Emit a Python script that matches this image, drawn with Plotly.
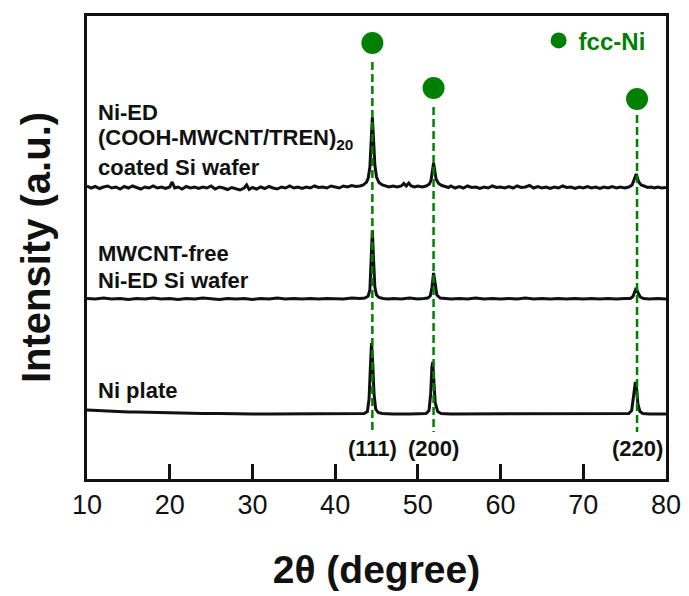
import plotly.graph_objects as go

# ---------------- data ----------------
# 2-theta positions (degree) and offset intensities (a.u.) of the three XRD patterns

# Top: Ni-ED (COOH-MWCNT/TREN)20 coated Si wafer
top_x = [10.0, 10.5, 11.0, 11.5, 12.0, 12.5, 13.0, 13.5, 14.0, 14.5, 15.0, 15.5, 16.0, 16.5,
         17.0, 17.5, 18.0, 18.5, 19.0, 19.5, 20.0, 20.3, 20.6, 21.0, 21.5, 22.0, 22.5, 23.0,
         23.5, 24.0, 24.5, 25.0, 25.5, 26.0, 26.5, 27.0, 27.5, 28.0, 28.5, 29.0, 29.3, 29.6,
         30.0, 30.5, 31.0, 31.5, 32.0, 32.5, 33.0, 33.5, 34.0, 34.5, 35.0, 35.5, 36.0, 36.5,
         37.0, 37.5, 38.0, 38.5, 39.0, 39.5, 40.0, 40.5, 41.0, 41.5, 42.0, 42.5, 43.0, 43.4,
         43.8, 44.0, 44.2, 44.35, 44.5, 44.65, 44.8, 45.0, 45.3, 45.7, 46.0, 46.5, 47.0, 47.5,
         48.0, 48.3, 48.6, 48.9, 49.2, 49.6, 50.0, 50.5, 51.0, 51.4, 51.6, 51.75, 51.9, 52.05,
         52.2, 52.5, 52.9, 53.3, 53.7, 54.0, 54.5, 55.0, 55.5, 56.0, 56.5, 57.0, 57.5, 58.0,
         58.5, 59.0, 59.5, 60.0, 60.5, 61.0, 61.5, 62.0, 62.5, 63.0, 63.5, 64.0, 64.5, 65.0,
         65.5, 66.0, 66.5, 67.0, 67.5, 68.0, 68.5, 69.0, 69.5, 70.0, 70.5, 71.0, 71.5, 72.0,
         72.5, 73.0, 73.5, 74.0, 74.5, 75.0, 75.5, 75.9, 76.1, 76.25, 76.4, 76.55, 76.7, 77.0,
         77.4, 77.8, 78.2, 78.6, 79.0, 79.5, 80.0]
top_y = [293.0, 291.0, 292.5, 290.5, 292.0, 293.0, 291.0, 292.0, 290.0, 292.5, 291.0, 293.0, 291.5, 290.0,
         292.0, 291.0, 293.0, 291.0, 292.0, 290.5, 292.0, 297.0, 291.0, 292.0, 290.0, 292.5, 291.0, 292.0,
         290.5, 292.0, 291.0, 293.0, 290.0, 292.0, 291.0, 289.5, 291.5, 290.5, 289.0, 291.0, 294.0, 289.5,
         291.5, 290.0, 292.0, 290.5, 292.5, 291.0, 290.0, 292.0, 291.0, 293.0, 291.0, 292.0, 290.5, 292.0,
         291.0, 293.0, 291.5, 292.0, 291.0, 293.0, 292.0, 291.0, 293.0, 292.0, 293.5, 292.5, 293.0, 294.0,
         297.0, 301.0, 312.0, 335.0, 362.0, 338.0, 314.0, 302.0, 296.5, 294.0, 293.0, 292.0, 293.0, 292.0,
         293.0, 295.5, 293.0, 296.0, 293.0, 292.0, 293.0, 292.0, 293.0, 295.0, 299.0, 307.0, 316.0, 308.0,
         300.0, 295.5, 293.5, 292.5, 291.5, 293.0, 291.0, 292.5, 291.0, 293.0, 291.5, 292.0, 290.5, 292.0,
         291.0, 293.0, 291.5, 292.0, 291.0, 292.5, 291.0, 293.0, 291.5, 292.0, 293.5, 291.0, 292.5, 291.0,
         292.0, 290.5, 292.0, 291.0, 293.0, 291.5, 292.0, 290.5, 292.0, 291.0, 292.5, 291.0, 292.0, 290.5,
         292.0, 291.0, 292.5, 291.0, 292.0, 291.0, 292.0, 294.0, 298.0, 302.0, 305.0, 301.0, 297.0, 294.0,
         292.5, 291.5, 292.0, 291.0, 292.0, 291.0, 291.5]

# Middle: MWCNT-free Ni-ED Si wafer
mid_x = [10, 11, 12, 13, 14, 15, 16, 17, 18, 19, 20, 21, 22, 23, 24, 25, 26, 27, 28, 29, 30,
         31, 32, 33, 34, 35, 36, 37, 38, 39, 40, 41, 42, 43, 43.6, 44.0, 44.2, 44.35, 44.5,
         44.65, 44.8, 45.0, 45.3, 45.8, 46.5, 47, 48, 49, 50, 50.7, 51.2, 51.5, 51.7, 51.9,
         52.1, 52.3, 52.7, 53.2, 54, 55, 56, 57, 58, 59, 60, 61, 62, 63, 64, 65, 66, 67, 68,
         69, 70, 71, 72, 73, 74, 75, 75.7, 76.0, 76.2, 76.4, 76.6, 76.9, 77.3, 78, 79, 80]
mid_y = [180.5, 180.0, 181.0, 180.0, 180.5, 179.5, 180.5, 180.0, 181.0, 180.0, 180.5, 179.5, 180.5, 180.0,
         181.0, 180.0, 179.5, 180.5, 180.0, 180.5, 179.5, 180.5, 180.0, 181.0, 180.0, 180.5, 180.0, 180.5,
         180.0, 180.5, 180.5, 180.0, 181.0, 180.5, 181.0, 183.0, 189.0, 215.0, 249.0, 218.0, 192.0, 184.0,
         181.5, 180.5, 180.0, 180.5, 180.0, 181.0, 180.0, 180.5, 181.0, 183.0, 191.0, 206.0, 193.0, 184.0,
         181.0, 180.5, 180.0, 180.5, 180.0, 181.0, 180.0, 180.5, 180.0, 180.5, 180.0, 181.0, 180.0, 180.5,
         180.0, 180.5, 180.0, 180.5, 180.0, 180.5, 180.0, 180.5, 180.0, 180.5, 180.5, 182.5, 186.0, 191.0,
         186.5, 182.0, 180.5, 180.0, 180.5, 180.0]

# Bottom: Ni plate
bot_x = [10, 11, 12, 13, 14, 15, 16, 18, 20, 22, 24, 26, 28, 30, 32, 34, 36, 38, 40, 42, 43.5,
         43.9, 44.1, 44.25, 44.4, 44.55, 44.7, 44.9, 45.2, 45.7, 47, 49, 50.5, 51.0, 51.35, 51.55,
         51.7, 51.8, 51.95, 52.1, 52.4, 52.8, 54, 56, 58, 60, 62, 64, 66, 68, 70, 72, 74, 75.5,
         75.85, 76.05, 76.2, 76.3, 76.45, 76.6, 76.85, 77.2, 78, 79, 80]
bot_y = [69.0, 68.5, 68.0, 68.0, 67.5, 67.0, 67.0, 66.5, 66.0, 66.0, 65.5, 65.5, 65.0, 65.0, 65.0, 65.0,
         65.0, 65.0, 65.0, 65.0, 65.5, 67.5, 80.0, 110.0, 136.0, 115.0, 85.0, 70.0, 66.5, 65.5, 65.0, 65.0,
         65.0, 65.5, 68.5, 85.0, 112.0, 117.0, 96.0, 76.0, 67.5, 65.5, 65.0, 65.0, 65.0, 65.0, 65.0, 65.0,
         65.0, 65.0, 65.0, 65.0, 65.0, 65.5, 68.5, 82.0, 95.0, 97.0, 90.0, 75.0, 67.5, 65.5, 65.0, 65.0, 65.0]

# fcc-Ni reflections
peak_pos = [44.5, 51.9, 76.5]
peak_hkl = ["(111)", "(200)", "(220)"]
marker_y = [436, 391, 380]        # height of the fcc-Ni markers
guide_top = [417, 372, 364]       # upper end of dashed guide lines
guide_bottom = 47                 # lower end of dashed guide lines
hkl_y = 31

sample_labels = ["Ni-ED", "(COOH-MWCNT/TREN)<sub>20</sub>", "coated Si wafer",
                 "MWCNT-free", "Ni-ED Si wafer", "Ni plate"]
sample_label_y = [367, 340, 312, 226, 199, 89]
label_x = 11.1

x_ticks = [10, 20, 30, 40, 50, 60, 70, 80]

# ---------------- figure ----------------
FONT = "Arial, Liberation Sans, sans-serif"
GREEN = "#008000"
BLACK = "#111111"

fig = go.Figure()

for xs, ys, name in [(top_x, top_y, "Ni-ED (COOH-MWCNT/TREN)20 coated Si wafer"),
                     (mid_x, mid_y, "MWCNT-free Ni-ED Si wafer"),
                     (bot_x, bot_y, "Ni plate")]:
    fig.add_trace(go.Scatter(x=xs, y=ys, mode="lines", name=name, showlegend=False,
                             line=dict(color=BLACK, width=3)))

for px, gt in zip(peak_pos, guide_top):
    fig.add_trace(go.Scatter(x=[px, px], y=[gt, guide_bottom], mode="lines", showlegend=False,
                             line=dict(color=GREEN, width=2.5, dash="8px,4px"), hoverinfo="skip"))

fig.add_trace(go.Scatter(x=peak_pos, y=marker_y, mode="markers", name="fcc-Ni",
                         marker=dict(color=GREEN, size=22, symbol="circle"), showlegend=True))

for txt, yy in zip(sample_labels, sample_label_y):
    fig.add_annotation(x=label_x, y=yy, text=txt, showarrow=False, xanchor="left", yanchor="middle",
                       font=dict(family=FONT, size=22, color=BLACK, weight="bold"))

for px, hkl in zip(peak_pos, peak_hkl):
    fig.add_annotation(x=px, y=hkl_y, text=hkl, showarrow=False, xanchor="center", yanchor="middle",
                       font=dict(family=FONT, size=22, color=BLACK, weight="bold"))

fig.update_layout(
    width=689, height=596,
    margin=dict(l=87, r=23, t=16, b=117),
    paper_bgcolor="white", plot_bgcolor="white",
    font=dict(family=FONT, color=BLACK),
    showlegend=True,
    legend=dict(x=0.78, y=0.995, xanchor="left", yanchor="top", bgcolor="rgba(0,0,0,0)",
                font=dict(family=FONT, size=24, color=GREEN, weight="bold"),
                itemsizing="trace"),
    xaxis=dict(range=[10, 80], tickmode="array", tickvals=x_ticks, ticks="inside",
               ticklen=15, tickwidth=3, tickcolor=BLACK, automargin=False,
               showline=True, linewidth=3, linecolor=BLACK, mirror=True,
               showgrid=False, zeroline=False,
               tickfont=dict(family=FONT, size=27, color=BLACK),
               title=dict(text="2θ (degree)", standoff=37,
                          font=dict(family=FONT, size=39, color=BLACK, weight="bold"))),
    yaxis=dict(range=[0, 463], showticklabels=False, ticks="", showline=True, linewidth=3,
               linecolor=BLACK, mirror=True, showgrid=False, zeroline=False, automargin=False,
               title=dict(text="Intensity (a.u.)", standoff=22,
                          font=dict(family=FONT, size=40, color=BLACK, weight="bold"))),
)

fig.write_html("out.html")
